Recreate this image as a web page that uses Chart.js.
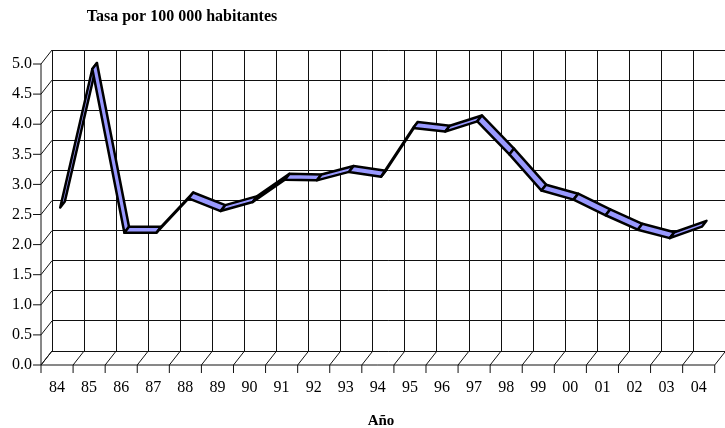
<!DOCTYPE html>
<html><head><meta charset="utf-8">
<script src="https://cdn.jsdelivr.net/npm/chart.js@4/dist/chart.umd.min.js"></script>
<style>
html,body{margin:0;padding:0;overflow:hidden;background:#fff;width:725px;height:428px}
#wrap{position:absolute;left:0;top:0;width:745px;height:428px}
</style></head>
<body><div id="wrap"><canvas id="c" width="745" height="428"></canvas></div>
<script>
// ---- data ----
const years = ['84','85','86','87','88','89','90','91','92','93','94','95','96','97','98','99','00','01','02','03','04'];
const rates = [2.55, 4.85, 2.13, 2.13, 2.70, 2.49, 2.64, 3.01, 3.00, 3.14, 3.06, 3.87, 3.81, 3.98, 3.43, 2.83, 2.68, 2.42, 2.18, 2.04, 2.23];
const yTickValues = [0, 0.5, 1, 1.5, 2, 2.5, 3, 3.5, 4, 4.5, 5];
const yAxisTitle = 'Tasa por 100 000 habitantes';
const xAxisTitle = 'Año';

// ---- style ----
const DEPTH = {x: 11, y: 14};     // back wall offset from front plane
const RIBBON = 0.42;              // ribbon depth as a fraction of DEPTH
const FONT = '"Liberation Serif", "Times New Roman", serif';
const GRID = '#111';

const frame3d = {
  id: 'frame3d',
  beforeDatasetsDraw(chart) {
    const {ctx, scales: {x, y}} = chart;
    ctx.save();
    ctx.strokeStyle = GRID;
    ctx.lineWidth = 1;
    const fx = x.left - DEPTH.x;
    const y0 = y.getPixelForValue(0) + DEPTH.y;
    const y5 = y.getPixelForValue(yTickValues[yTickValues.length - 1]) + DEPTH.y;
    ctx.beginPath();
    ctx.moveTo(fx, y5); ctx.lineTo(fx, y0);
    yTickValues.forEach(v => {
      const yb = y.getPixelForValue(v);
      ctx.moveTo(fx - 8, yb + DEPTH.y); ctx.lineTo(fx, yb + DEPTH.y);
      ctx.lineTo(x.left, yb);
    });
    const n = years.length;
    ctx.moveTo(x.getPixelForValue(-0.5) - DEPTH.x, y0);
    ctx.lineTo(x.getPixelForValue(n - 0.5) - DEPTH.x, y0);
    for (let i = 0; i <= n; i++) {
      const xb = x.getPixelForValue(i - 0.5);
      ctx.moveTo(xb - DEPTH.x, y0 + 8); ctx.lineTo(xb - DEPTH.x, y0);
      ctx.lineTo(xb, y.getPixelForValue(0));
    }
    ctx.stroke();
    ctx.restore();
  },
  afterDatasetsDraw(chart) {
    const {ctx} = chart;
    const meta = chart.getDatasetMeta(0);
    const hx = DEPTH.x * RIBBON / 2, hy = DEPTH.y * RIBBON / 2;
    const c = meta.data.map(p => ({x: p.x - DEPTH.x / 2, y: p.y + DEPTH.y / 2}));
    ctx.save();
    ctx.fillStyle = '#9999ff';
    ctx.strokeStyle = '#000';
    ctx.lineWidth = 2.5;
    ctx.lineJoin = 'round';
    for (let i = 0; i < c.length - 1; i++) {
      const a = c[i], b = c[i + 1];
      ctx.beginPath();
      ctx.moveTo(a.x - hx, a.y + hy);
      ctx.lineTo(b.x - hx, b.y + hy);
      ctx.lineTo(b.x + hx, b.y - hy);
      ctx.lineTo(a.x + hx, a.y - hy);
      ctx.closePath();
      ctx.fill();
      ctx.stroke();
    }
    ctx.restore();
  },
  afterDraw(chart) {
    const {ctx} = chart;
    ctx.save();
    ctx.fillStyle = '#000';
    ctx.font = 'bold 16px ' + FONT;
    ctx.textBaseline = 'middle';
    ctx.textAlign = 'center';
    ctx.fillText(yAxisTitle, 182, 17);
    ctx.font = 'bold 15px ' + FONT;
    ctx.fillText(xAxisTitle, 381, 421);
    ctx.restore();
  }
};

new Chart(document.getElementById('c'), {
  type: 'line',
  data: {
    labels: years,
    datasets: [{
      data: rates,
      borderWidth: 0,
      borderColor: 'rgba(0,0,0,0)',
      pointRadius: 0,
      fill: false
    }]
  },
  options: {
    responsive: false,
    animation: false,
    events: [],
    layout: {padding: {left: 0, top: 50, right: 13, bottom: 0}},
    plugins: {legend: {display: false}, tooltip: {enabled: false}, title: {display: false}},
    scales: {
      x: {
        type: 'category',
        offset: true,
        grid: {offset: true, color: GRID, lineWidth: 1, drawTicks: false},
        border: {display: false},
        ticks: {
          color: '#000', font: {family: FONT, size: 16},
          padding: 27, labelOffset: -DEPTH.x, maxRotation: 0, autoSkip: false
        },
        afterFit(s) { s.height = 77; }
      },
      y: {
        min: 0, max: 5,
        grid: {color: GRID, lineWidth: 1, drawTicks: false},
        border: {display: false},
        afterBuildTicks(s) { s.ticks = yTickValues.map(v => ({value: v})); },
        ticks: {
          color: '#000', font: {family: FONT, size: 16},
          padding: 20, labelOffset: DEPTH.y,
          callback: v => Number(v).toFixed(1)
        },
        afterFit(s) { s.width = 52; }
      }
    }
  },
  plugins: [frame3d]
});
</script>
</body></html>
